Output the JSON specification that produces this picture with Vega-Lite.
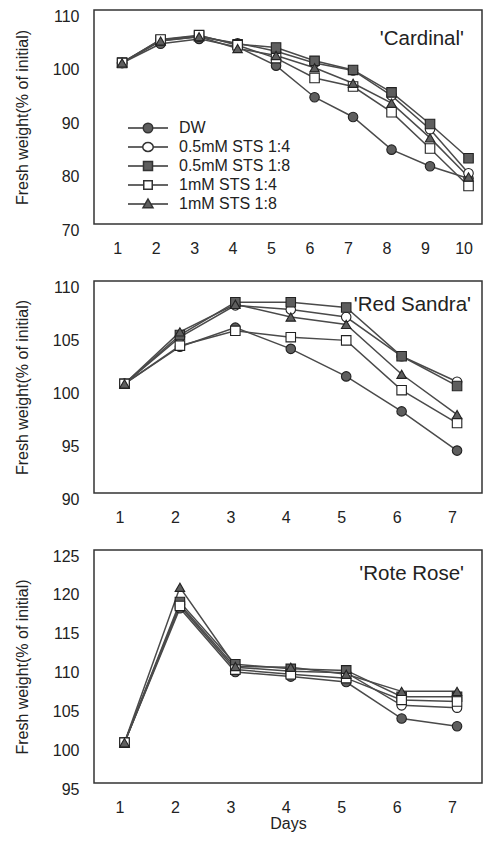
{
  "$schema": "https://vega.github.io/schema/vega-lite/v6.json",
  "background": "white",
  "padding": {"left": 13, "top": 7, "right": 2, "bottom": 2},
  "spacing": 21,
  "config": {
    "font": "Liberation Sans",
    "view": {"stroke": "#333", "strokeWidth": 1.5},
    "axis": {"grid": false, "ticks": false, "domain": false, "labelFont": "Liberation Sans", "labelFontSize": 16, "labelColor": "#222", "titleFont": "Liberation Sans", "titleFontWeight": "normal", "titleColor": "#222"},
    "axisX": {"labelPadding": 16, "labelOffset": -5},
    "axisY": {"labelPadding": 15, "labelOffset": 6},
    "title": {"font": "Liberation Sans", "fontWeight": "normal", "fontSize": 20.5, "color": "#222"}
  },
  "resolve": {"scale": {"fill": "independent", "shape": "independent"}, "legend": {"fill": "independent", "shape": "independent"}},
  "vconcat": [
    {
      "width": 388, "height": 214,
      "title": {"text": "'Cardinal'", "anchor": "end", "frame": "group", "offset": -41, "dx": -18},
      "data": {"values": [
        {"day":1,"series":"DW","fw":100.1},{"day":1,"series":"0.5mM STS 1:4","fw":100.1},{"day":1,"series":"0.5mM STS 1:8","fw":100.2},{"day":1,"series":"1mM STS 1:4","fw":100.1},{"day":1,"series":"1mM STS 1:8","fw":100.1},
        {"day":2,"series":"DW","fw":103.7},{"day":2,"series":"0.5mM STS 1:4","fw":104.3},{"day":2,"series":"0.5mM STS 1:8","fw":104.4},{"day":2,"series":"1mM STS 1:4","fw":104.5},{"day":2,"series":"1mM STS 1:8","fw":104.2},
        {"day":3,"series":"DW","fw":104.6},{"day":3,"series":"0.5mM STS 1:4","fw":105.0},{"day":3,"series":"0.5mM STS 1:8","fw":105.2},{"day":3,"series":"1mM STS 1:4","fw":105.3},{"day":3,"series":"1mM STS 1:8","fw":105.0},
        {"day":4,"series":"DW","fw":103.1},{"day":4,"series":"0.5mM STS 1:4","fw":103.8},{"day":4,"series":"0.5mM STS 1:8","fw":103.6},{"day":4,"series":"1mM STS 1:4","fw":103.4},{"day":4,"series":"1mM STS 1:8","fw":102.8},
        {"day":5,"series":"DW","fw":99.6},{"day":5,"series":"0.5mM STS 1:4","fw":102.3},{"day":5,"series":"0.5mM STS 1:8","fw":103.0},{"day":5,"series":"1mM STS 1:4","fw":101.0},{"day":5,"series":"1mM STS 1:8","fw":101.5},
        {"day":6,"series":"DW","fw":93.7},{"day":6,"series":"0.5mM STS 1:4","fw":100.1},{"day":6,"series":"0.5mM STS 1:8","fw":100.5},{"day":6,"series":"1mM STS 1:4","fw":97.3},{"day":6,"series":"1mM STS 1:8","fw":99.2},
        {"day":7,"series":"DW","fw":90.0},{"day":7,"series":"0.5mM STS 1:4","fw":98.7},{"day":7,"series":"0.5mM STS 1:8","fw":98.8},{"day":7,"series":"1mM STS 1:4","fw":95.7},{"day":7,"series":"1mM STS 1:8","fw":96.3},
        {"day":8,"series":"DW","fw":83.9},{"day":8,"series":"0.5mM STS 1:4","fw":94.0},{"day":8,"series":"0.5mM STS 1:8","fw":94.6},{"day":8,"series":"1mM STS 1:4","fw":90.9},{"day":8,"series":"1mM STS 1:8","fw":92.6},
        {"day":9,"series":"DW","fw":80.8},{"day":9,"series":"0.5mM STS 1:4","fw":87.7},{"day":9,"series":"0.5mM STS 1:8","fw":88.7},{"day":9,"series":"1mM STS 1:4","fw":84.1},{"day":9,"series":"1mM STS 1:8","fw":86.1},
        {"day":10,"series":"DW","fw":78.5},{"day":10,"series":"0.5mM STS 1:4","fw":79.5},{"day":10,"series":"0.5mM STS 1:8","fw":82.3},{"day":10,"series":"1mM STS 1:4","fw":77.1},{"day":10,"series":"1mM STS 1:8","fw":78.8}
      ]},
      "encoding": {
        "x": {"field": "day", "type": "quantitative", "scale": {"domain": [0.27, 10.35], "nice": false, "zero": false}, "axis": {"values": [1,2,3,4,5,6,7,8,9,10], "title": null}},
        "y": {"field": "fw", "type": "quantitative", "scale": {"domain": [70, 110], "nice": false, "zero": false}, "axis": {"values": [70,80,90,100,110], "title": "Fresh weight(% of initial)", "titleFontSize": 16, "titlePadding": 22}}
      },
      "resolve": {"scale": {"shape": "independent", "fill": "independent"}, "legend": {"shape": "independent", "fill": "independent"}},
      "layer": [
        {"mark": {"type": "line", "color": "#4a4a4a", "strokeWidth": 1.5}, "encoding": {"detail": {"field": "series"}}},
        {"mark": {"type": "point", "filled": true, "opacity": 1, "stroke": "#222", "strokeWidth": 1.1},
         "encoding": {
           "shape": {"field": "series", "type": "nominal", "scale": {"domain": ["DW","0.5mM STS 1:4","0.5mM STS 1:8","1mM STS 1:4","1mM STS 1:8"], "range": ["circle","circle","square","square","triangle-up"]}, "legend": null},
           "fill": {"field": "series", "type": "nominal", "scale": {"domain": ["DW","0.5mM STS 1:4","0.5mM STS 1:8","1mM STS 1:4","1mM STS 1:8"], "range": ["#5e5e5e","#ffffff","#5e5e5e","#ffffff","#5e5e5e"]}, "legend": null},
           "size": {"value": 90}
         }},
        {"mark": {"type": "point", "filled": true, "opacity": 0, "stroke": "#333", "strokeWidth": 1.3},
         "encoding": {
           "shape": {"field": "series", "type": "nominal", "scale": {"domain": ["DW","0.5mM STS 1:4","0.5mM STS 1:8","1mM STS 1:4","1mM STS 1:8"], "range": ["M-4,0L-0.95,0M0.95,0L4,0M-0.95,0A0.95,0.95,0,1,1,0.95,0A0.95,0.95,0,1,1,-0.95,0Z", "M-4,0L-1.05,0M1.05,0L4,0M-1.05,0A1.05,0.9,0,1,1,1.05,0A1.05,0.9,0,1,1,-1.05,0Z", "M-4,0L-0.9,0M0.9,0L4,0M-0.9,-0.9L0.9,-0.9L0.9,0.9L-0.9,0.9Z", "M-4,0L-0.85,0M0.85,0L4,0M-0.85,-0.85L0.85,-0.85L0.85,0.85L-0.85,0.85Z", "M-4,0L-0.6,0M0.6,0L4,0M0,-1L1,0.75L-1,0.75Z"]},
             "legend": {"orient": "none", "legendX": 46, "legendY": 110, "title": null, "symbolSize": 100, "symbolOpacity": 1, "labelOffset": 23, "labelFontSize": 16, "labelFont": "Liberation Sans", "labelColor": "#222", "rowPadding": 3,
               "encode": {"symbols": {"stroke": {"value": "#333"}, "strokeWidth": {"value": 1.3}, "opacity": {"value": 1}}}}},
           "fill": {"field": "series", "type": "nominal", "scale": {"domain": ["DW","0.5mM STS 1:4","0.5mM STS 1:8","1mM STS 1:4","1mM STS 1:8"], "range": ["#5e5e5e","#ffffff","#5e5e5e","#ffffff","#5e5e5e"]},
             "legend": {"orient": "none", "legendX": 46, "legendY": 110, "title": null, "symbolSize": 100, "symbolOpacity": 1, "labelOffset": 23, "labelFontSize": 16, "labelFont": "Liberation Sans", "labelColor": "#222", "rowPadding": 3,
               "encode": {"symbols": {"stroke": {"value": "#333"}, "strokeWidth": {"value": 1.3}, "opacity": {"value": 1}}}}},
           "size": {"value": 90}
         }}
      ]
    },
    {
      "width": 388, "height": 212,
      "title": {"text": "'Red Sandra'", "anchor": "end", "frame": "group", "offset": -36, "dx": -11},
      "data": {"values": [
        {"day":1,"series":"DW","fw":100.3},{"day":1,"series":"0.5mM STS 1:4","fw":100.3},{"day":1,"series":"0.5mM STS 1:8","fw":100.3},{"day":1,"series":"1mM STS 1:4","fw":100.3},{"day":1,"series":"1mM STS 1:8","fw":100.3},
        {"day":2,"series":"DW","fw":103.8},{"day":2,"series":"0.5mM STS 1:4","fw":104.7},{"day":2,"series":"0.5mM STS 1:8","fw":104.9},{"day":2,"series":"1mM STS 1:4","fw":103.9},{"day":2,"series":"1mM STS 1:8","fw":105.2},
        {"day":3,"series":"DW","fw":105.6},{"day":3,"series":"0.5mM STS 1:4","fw":107.7},{"day":3,"series":"0.5mM STS 1:8","fw":108.0},{"day":3,"series":"1mM STS 1:4","fw":105.3},{"day":3,"series":"1mM STS 1:8","fw":107.8},
        {"day":4,"series":"DW","fw":103.6},{"day":4,"series":"0.5mM STS 1:4","fw":107.3},{"day":4,"series":"0.5mM STS 1:8","fw":108.0},{"day":4,"series":"1mM STS 1:4","fw":104.7},{"day":4,"series":"1mM STS 1:8","fw":106.6},
        {"day":5,"series":"DW","fw":101.0},{"day":5,"series":"0.5mM STS 1:4","fw":106.6},{"day":5,"series":"0.5mM STS 1:8","fw":107.5},{"day":5,"series":"1mM STS 1:4","fw":104.4},{"day":5,"series":"1mM STS 1:8","fw":105.9},
        {"day":6,"series":"DW","fw":97.7},{"day":6,"series":"0.5mM STS 1:4","fw":102.9},{"day":6,"series":"0.5mM STS 1:8","fw":102.9},{"day":6,"series":"1mM STS 1:4","fw":99.7},{"day":6,"series":"1mM STS 1:8","fw":101.2},
        {"day":7,"series":"DW","fw":94.0},{"day":7,"series":"0.5mM STS 1:4","fw":100.5},{"day":7,"series":"0.5mM STS 1:8","fw":100.1},{"day":7,"series":"1mM STS 1:4","fw":96.6},{"day":7,"series":"1mM STS 1:8","fw":97.4}
      ]},
      "encoding": {
        "x": {"field": "day", "type": "quantitative", "scale": {"domain": [0.45, 7.45], "nice": false, "zero": false}, "axis": {"values": [1,2,3,4,5,6,7], "title": null}},
        "y": {"field": "fw", "type": "quantitative", "scale": {"domain": [90, 110], "nice": false, "zero": false}, "axis": {"values": [90,95,100,105,110], "title": "Fresh weight(% of initial)", "titleFontSize": 16, "titlePadding": 22}}
      },
      "layer": [
        {"mark": {"type": "line", "color": "#4a4a4a", "strokeWidth": 1.5}, "encoding": {"detail": {"field": "series"}}},
        {"mark": {"type": "point", "filled": true, "opacity": 1, "stroke": "#222", "strokeWidth": 1.1},
         "encoding": {
           "shape": {"field": "series", "type": "nominal", "scale": {"domain": ["DW","0.5mM STS 1:4","0.5mM STS 1:8","1mM STS 1:4","1mM STS 1:8"], "range": ["circle","circle","square","square","triangle-up"]}, "legend": null},
           "fill": {"field": "series", "type": "nominal", "scale": {"domain": ["DW","0.5mM STS 1:4","0.5mM STS 1:8","1mM STS 1:4","1mM STS 1:8"], "range": ["#5e5e5e","#ffffff","#5e5e5e","#ffffff","#5e5e5e"]}, "legend": null},
           "size": {"value": 90}
         }}
      ]
    },
    {
      "width": 388, "height": 233,
      "title": {"text": "'Rote Rose'", "anchor": "end", "frame": "group", "offset": -36, "dx": -18},
      "data": {"values": [
        {"day":1,"series":"DW","fw":100.2},{"day":1,"series":"0.5mM STS 1:4","fw":100.2},{"day":1,"series":"0.5mM STS 1:8","fw":100.2},{"day":1,"series":"1mM STS 1:4","fw":100.2},{"day":1,"series":"1mM STS 1:8","fw":100.2},
        {"day":2,"series":"DW","fw":117.5},{"day":2,"series":"0.5mM STS 1:4","fw":118.0},{"day":2,"series":"0.5mM STS 1:8","fw":118.3},{"day":2,"series":"1mM STS 1:4","fw":117.8},{"day":2,"series":"1mM STS 1:8","fw":120.2},
        {"day":3,"series":"DW","fw":109.3},{"day":3,"series":"0.5mM STS 1:4","fw":109.9},{"day":3,"series":"0.5mM STS 1:8","fw":110.3},{"day":3,"series":"1mM STS 1:4","fw":109.6},{"day":3,"series":"1mM STS 1:8","fw":110.0},
        {"day":4,"series":"DW","fw":108.7},{"day":4,"series":"0.5mM STS 1:4","fw":109.4},{"day":4,"series":"0.5mM STS 1:8","fw":109.7},{"day":4,"series":"1mM STS 1:4","fw":109.0},{"day":4,"series":"1mM STS 1:8","fw":109.9},
        {"day":5,"series":"DW","fw":108.0},{"day":5,"series":"0.5mM STS 1:4","fw":109.2},{"day":5,"series":"0.5mM STS 1:8","fw":109.5},{"day":5,"series":"1mM STS 1:4","fw":108.5},{"day":5,"series":"1mM STS 1:8","fw":109.0},
        {"day":6,"series":"DW","fw":103.3},{"day":6,"series":"0.5mM STS 1:4","fw":105.0},{"day":6,"series":"0.5mM STS 1:8","fw":106.1},{"day":6,"series":"1mM STS 1:4","fw":105.7},{"day":6,"series":"1mM STS 1:8","fw":106.8},
        {"day":7,"series":"DW","fw":102.3},{"day":7,"series":"0.5mM STS 1:4","fw":104.7},{"day":7,"series":"0.5mM STS 1:8","fw":106.1},{"day":7,"series":"1mM STS 1:4","fw":105.5},{"day":7,"series":"1mM STS 1:8","fw":106.8}
      ]},
      "encoding": {
        "x": {"field": "day", "type": "quantitative", "scale": {"domain": [0.45, 7.45], "nice": false, "zero": false}, "axis": {"values": [1,2,3,4,5,6,7], "title": "Days", "titleFontSize": 16, "titlePadding": 0}},
        "y": {"field": "fw", "type": "quantitative", "scale": {"domain": [95, 125], "nice": false, "zero": false}, "axis": {"values": [95,100,105,110,115,120,125], "title": "Fresh weight(% of initial)", "titleFontSize": 16, "titlePadding": 22}}
      },
      "layer": [
        {"mark": {"type": "line", "color": "#4a4a4a", "strokeWidth": 1.5}, "encoding": {"detail": {"field": "series"}}},
        {"mark": {"type": "point", "filled": true, "opacity": 1, "stroke": "#222", "strokeWidth": 1.1},
         "encoding": {
           "shape": {"field": "series", "type": "nominal", "scale": {"domain": ["DW","0.5mM STS 1:4","0.5mM STS 1:8","1mM STS 1:4","1mM STS 1:8"], "range": ["circle","circle","square","square","triangle-up"]}, "legend": null},
           "fill": {"field": "series", "type": "nominal", "scale": {"domain": ["DW","0.5mM STS 1:4","0.5mM STS 1:8","1mM STS 1:4","1mM STS 1:8"], "range": ["#5e5e5e","#ffffff","#5e5e5e","#ffffff","#5e5e5e"]}, "legend": null},
           "size": {"value": 90}
         }}
      ]
    }
  ]
}
